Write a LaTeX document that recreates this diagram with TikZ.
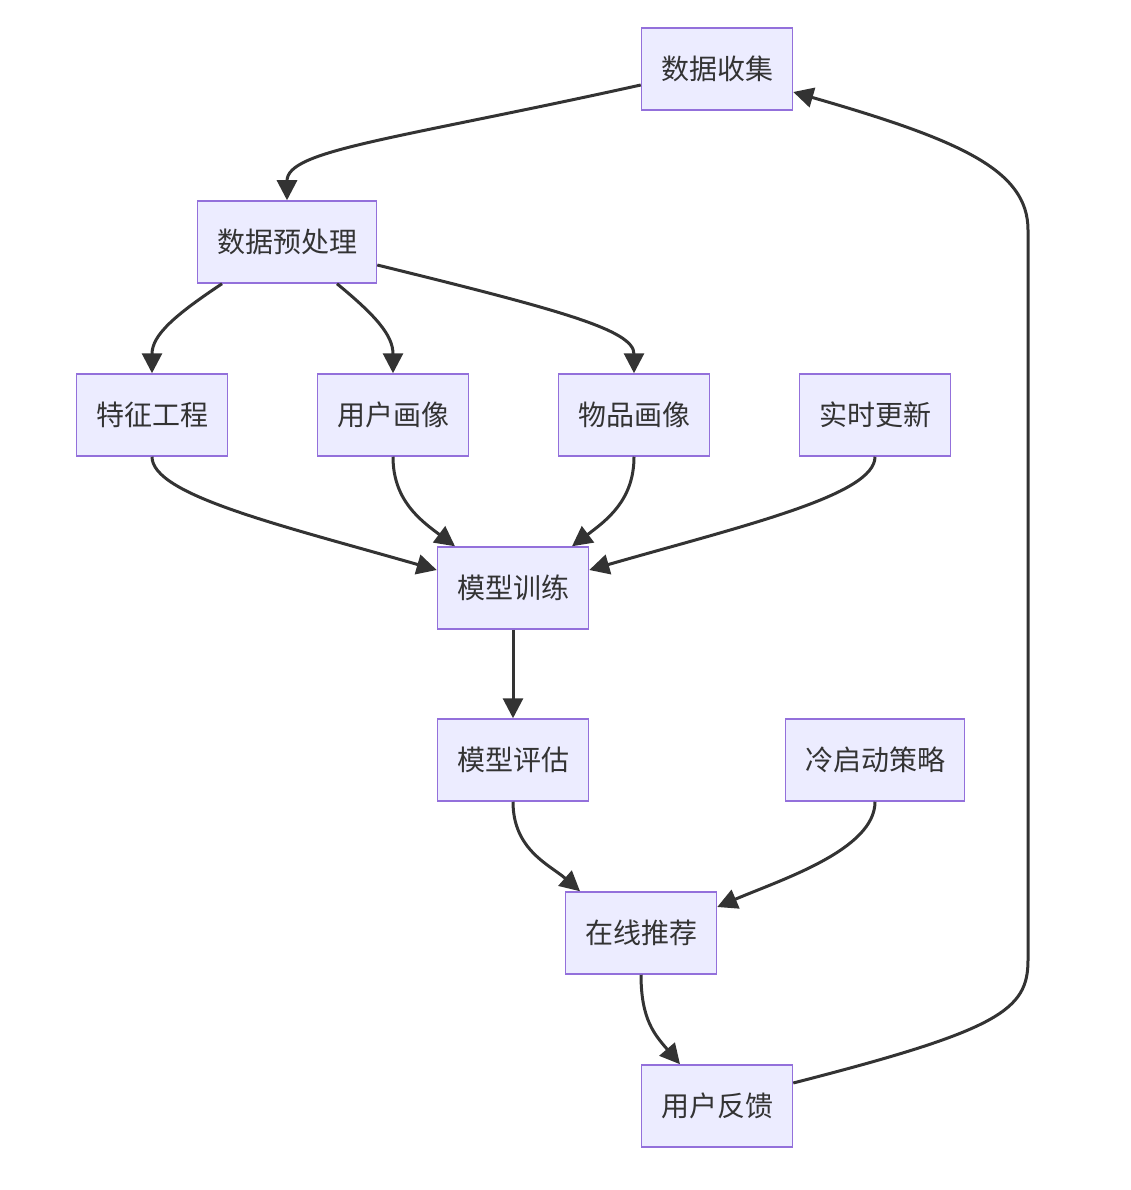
\documentclass[tikz,border=0pt]{standalone}
\usepackage{fontspec}
\setmainfont{Noto Sans CJK SC}
\usepackage{xcolor}
\usepackage{tikz}
\usetikzlibrary{arrows.meta, positioning}

\definecolor{boxfill}{HTML}{ECECFF}
\definecolor{boxline}{HTML}{9370DB}
\definecolor{ink}{HTML}{333333}

\begin{document}
\begin{tikzpicture}[
        x=1pt, y=-1pt,
        box/.style={rectangle, draw=boxline, fill=boxfill, line width=1.5pt,
            text=ink, font=\fontsize{28}{34}\selectfont,
            inner xsep=19.5pt, minimum height=82pt},
        flow/.style={draw=ink, line width=3pt, -{Triangle[length=20pt, width=20pt]}}
    ]
    \useasboundingbox (0,0) rectangle (1130,1190);

    % nodes
    \node[box] (collect) at (717,69) {数据收集};
    \node[box] (prep) at (287,242) {数据预处理};
    \node[box] (feature) at (152,415) {特征工程};
    \node[box] (userprof) at (393,415) {用户画像};
    \node[box] (itemprof) at (634,415) {物品画像};
    \node[box] (realtime) at (875,415) {实时更新};
    \node[box] (train) at (513,588) {模型训练};
    \node[box] (evaluate) at (513,760) {模型评估};
    \node[box] (coldstart) at (875,760) {冷启动策略};
    \node[box] (online) at (641,933) {在线推荐};
    \node[box] (feedback) at (717,1106) {用户反馈};

    % edges
    \draw[flow] ([yshift=-16pt]collect.west) .. controls (392,140) and (287,150) .. (prep.north);
    \draw[flow] ([xshift=-65pt]prep.south) .. controls (175,315) and (152,335) .. (feature.north);
    \draw[flow] ([xshift=50pt]prep.south) .. controls (375,315) and (393,335) .. (userprof.north);
    \draw[flow] ([yshift=-23pt]prep.east) .. controls (560,310) and (634,330) .. (itemprof.north);
    \draw[flow] (feature.south) .. controls (152,495) and (280,525) .. ([yshift=18pt]train.west);
    \draw[flow] (userprof.south) .. controls (393,500) and (420,520) .. ([xshift=-58pt]train.north);
    \draw[flow] (itemprof.south) .. controls (634,500) and (607,520) .. ([xshift=59pt]train.north);
    \draw[flow] (realtime.south) .. controls (875,495) and (746,525) .. ([yshift=18pt]train.east);
    \draw[flow] (train) -- (evaluate);
    \draw[flow] (evaluate.south) .. controls (513,850) and (550,865) .. ([xshift=-61pt]online.north);
    \draw[flow] (coldstart.south) .. controls (875,850) and (780,880) .. ([yshift=26pt]online.east);
    \draw[flow] (online.south) .. controls (641,1020) and (655,1035) .. ([xshift=-37pt]feedback.north);
    \draw[flow] ([yshift=23pt]feedback.east) .. controls (1000,1030) and (1028,1010) .. (1028,960)
        -- (1028,230) .. controls (1028,170) and (960,140) .. ([yshift=-23pt]collect.east);

\end{tikzpicture}
\end{document}
